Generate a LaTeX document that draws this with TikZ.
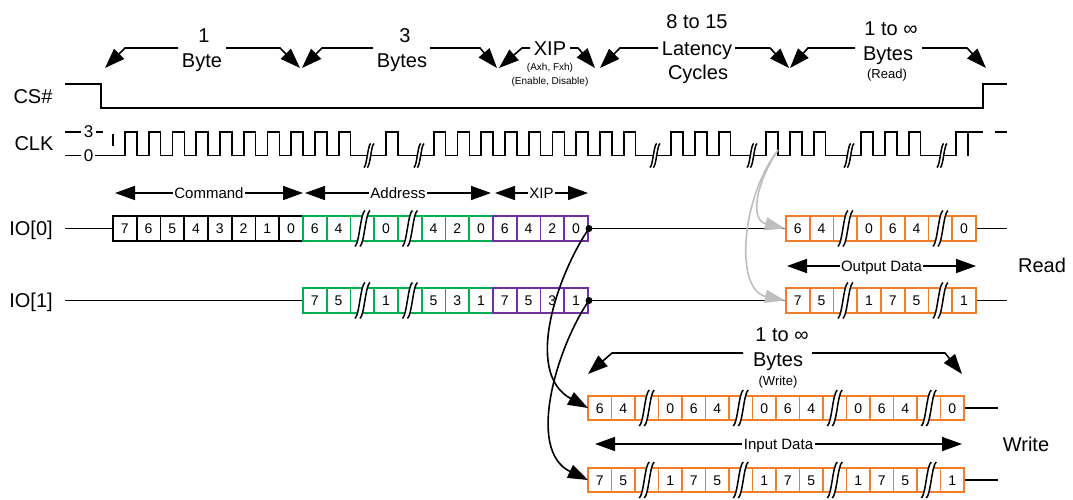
\documentclass[tikz,border=0pt]{standalone}
\usepackage{fontspec}
\setmainfont{Liberation Sans}
\usetikzlibrary{arrows.meta}
\definecolor{grn}{RGB}{0,176,80}
\definecolor{prp}{RGB}{112,48,160}
\definecolor{org}{RGB}{242,125,40}
\definecolor{gry}{RGB}{190,190,190}
\tikzset{
  brk/.pic={
    \fill[white] (-7.5,18) .. controls (-3,15) and (-2,-15) .. (2.5,-18) -- (7.5,-18) .. controls (3,-15) and (2,15) .. (-2.5,18) -- cycle;
    \draw[line width=1.5pt] (-7.5,18) .. controls (-3,15) and (-2,-15) .. (2.5,-18);
    \draw[line width=1.5pt] (-2.5,18) .. controls (2,15) and (3,-15) .. (7.5,-18);
  }
}
\begin{document}
\begin{tikzpicture}[x=1pt,y=-1pt,
  ln/.style={line width=1.6pt},
  arr/.style={line width=1.6pt,-{Triangle[length=20pt,width=14pt]}},
  darr/.style={line width=1.6pt,{Triangle[length=20pt,width=14pt]}-{Triangle[length=20pt,width=14pt]}},
  garr/.style={draw=gry,line width=1.6pt,-{Triangle[length=20pt,width=13pt]}},
  big/.style={font=\fontsize{20}{22}\selectfont,inner sep=0pt,text height=14.3pt,text depth=0pt},
  clab/.style={font=\fontsize{17}{19}\selectfont,inner sep=0pt,text height=12.2pt,text depth=0pt},
  mid/.style={font=\fontsize{15}{17}\selectfont,inner ysep=0pt,inner xsep=1.5pt,text height=10.7pt,text depth=0pt,fill=white},
  sml/.style={font=\fontsize{10}{11}\selectfont,inner sep=0pt,text height=7.2pt,text depth=0pt},
  paren/.style={font=\fontsize{13}{14}\selectfont,inner sep=0pt,text height=9.3pt,text depth=0pt},
  cellA/.style={draw,line width=1.7pt,minimum width=23.75pt,minimum height=25pt,inner sep=0pt,
     font=\fontsize{14}{14}\selectfont,text height=10pt,text depth=0pt},
  cellW/.style={cellA,minimum width=23.5pt,minimum height=24.5pt},
  dot/.style={circle,fill,inner sep=0pt,minimum size=7pt}
]
\useasboundingbox (0,0) rectangle (1073,499);

% ---------- left labels ----------
\node[big] (cs)  at (33,96)  {CS\#};
\node[big] (clk) at (34,143) {CLK};
\node[big] (io0) at (31,228.5) {IO[0]};
\node[big] (io1) at (31,300.5) {IO[1]};
\node[big] (read)  at (1042,265.5) {Read};
\node[big] (write) at (1026,444) {Write};

% ---------- top labels ----------
\node[big] (g1a) at (204,35) {1};
\node[big] (g1b) at (202,60) {Byte};
\node[big] (g2a) at (405,35) {3};
\node[big] (g2b) at (402,60) {Bytes};
\node[big] (g3a) at (550,48.5) {XIP};
\node[sml] (g3b) at (550,67) {(Axh, Fxh)};
\node[sml] (g3c) at (550,80.5) {(Enable, Disable)};
\node[big] (g4a) at (697,21.5) {8 to 15};
\node[big] (g4b) at (697,48.5) {Latency};
\node[big] (g4c) at (698,72.5) {Cycles};
\node[big] (g5a) at (891,28.5) {1 to ∞};
\node[big] (g5b) at (888,53.5) {Bytes};
\node[paren] (g5c) at (887,74) {(Read)};
\node[big] (gwa) at (782,334) {1 to ∞};
\node[big] (gwb) at (778,359) {Bytes};
\node[paren] (gwc) at (778,381) {(Write)};

% top arrows
\coordinate (a1s) at (178,48); \coordinate (a1b) at (125,48); \coordinate (a1t) at (105,68);
\coordinate (a2s) at (226,48); \coordinate (a2b) at (280,48); \coordinate (a2t) at (300,68);
\coordinate (a3s) at (373,48); \coordinate (a3b) at (322,48); \coordinate (a3t) at (302,68);
\coordinate (a4s) at (430,48); \coordinate (a4b) at (480,48); \coordinate (a4t) at (497,68);
\coordinate (a5s) at (530,48); \coordinate (a5b) at (522,48); \coordinate (a5t) at (499,68);
\coordinate (a6s) at (570,48); \coordinate (a6b) at (578,48); \coordinate (a6t) at (595,68);
\coordinate (a7s) at (658,48); \coordinate (a7b) at (620,48); \coordinate (a7t) at (600,68);
\coordinate (a8s) at (735,48); \coordinate (a8b) at (770,48); \coordinate (a8t) at (789,68);
\coordinate (a9s) at (855,48); \coordinate (a9b) at (808,48); \coordinate (a9t) at (790,68);
\coordinate (a10s) at (922,48); \coordinate (a10b) at (967,48); \coordinate (a10t) at (986,68);
\coordinate (w1s) at (743,353); \coordinate (w1b) at (612,353); \coordinate (w1t) at (588,374);
\coordinate (w2s) at (812,353); \coordinate (w2b) at (945,353); \coordinate (w2t) at (962,374);
\foreach \k in {a1,a2,a3,a4,a5,a6,a7,a8,a9,a10,w1,w2}
  \draw[arr] (\k s) -- (\k b) -- (\k t);

% ---------- CS# ----------
\coordinate (cs0) at (65,84); \coordinate (cs1) at (101,84); \coordinate (cs2) at (101,108);
\coordinate (cs3) at (983,108); \coordinate (cs4) at (983,84); \coordinate (cs5) at (1007,84);
\draw[ln] (cs0) -- (cs1) -- (cs2) -- (cs3) -- (cs4) -- (cs5);

% ---------- CLK ----------
\node[clab] (m3) at (88.5,131.5) {3};
\node[clab] (m0) at (88.5,155.5) {0};
\draw[ln] (65,132) -- (81,132);
\draw[ln] (96,132) -- (103,132);
\draw[ln] (65,155.5) -- (81,155.5);
\draw[ln] (113,134) -- (113,146);
\draw[ln] (95,155.5)
  foreach \xr in {125,148.75,172.5,196.25,220,243.75,267.5,291.25,315,338.75,386.25,433.75,457.5,481.25,505,528.75,552.5,576.25,600,623.75,671.25,695,718.75,766.25,790,813.75,861.25,885,908.75}
  { -- (\xr,155.5) -- (\xr,132) -- ({\xr+11.875},132) -- ({\xr+11.875},155.5) }
  -- (956.25,155.5) -- (956.25,132) -- (983,132);
\draw[ln] (968.1,132) -- (968.1,155.5);
\draw[ln] (995,132) -- (1007,132);
\foreach \bx in {369,419,655,752,849,942}
  \pic[scale=0.67] at (\bx,155.5) {brk};

% ---------- IO lines ----------
\draw[ln] (65,228.5) -- (113,228.5);
\draw[ln] (65,300.5) -- (303,300.5);
\draw[ln] (589,228.5) -- (786,228.5);
\draw[ln] (589,300.5) -- (786,300.5);
\draw[ln] (977,228.5) -- (1007,228.5);
\draw[ln] (977,300.5) -- (1007,300.5);
\draw[ln] (964,408) -- (998,408);
\draw[ln] (964,480) -- (998,480);

% ---------- cells ----------
\foreach \dg [count=\i from 0] in {7,6,5,4,3,2,1,0}
  \node[cellA,draw=black] (ca\i) at ({124.875+23.75*\i},228.5) {\dg};
\foreach \dg [count=\i from 0] in {6,4,{},0,{},4,2,0}
  \node[cellA,draw=grn] (ga\i) at ({314.875+23.75*\i},228.5) {\dg};
\foreach \dg [count=\i from 0] in {7,5,{},1,{},5,3,1}
  \node[cellA,draw=grn] (gb\i) at ({314.875+23.75*\i},300.5) {\dg};
\foreach \dg [count=\i from 0] in {6,4,2,0}
  \node[cellA,draw=prp] (pa\i) at ({504.875+23.75*\i},228.5) {\dg};
\foreach \dg [count=\i from 0] in {7,5,3,1}
  \node[cellA,draw=prp] (pb\i) at ({504.875+23.75*\i},300.5) {\dg};
\foreach \dg [count=\i from 0] in {6,4,{},0,6,4,{},0}
  \node[cellA,draw=org] (ra\i) at ({797.875+23.75*\i},228.5) {\dg};
\foreach \dg [count=\i from 0] in {7,5,{},1,7,5,{},1}
  \node[cellA,draw=org] (rb\i) at ({797.875+23.75*\i},300.5) {\dg};
\foreach \dg [count=\i from 0] in {6,4,{},0,6,4,{},0,6,4,{},0,6,4,{},0}
  \node[cellW,draw=org] (wa\i) at ({599.75+23.5*\i},408) {\dg};
\foreach \dg [count=\i from 0] in {7,5,{},1,7,5,{},1,7,5,{},1,7,5,{},1}
  \node[cellW,draw=org] (wb\i) at ({599.75+23.5*\i},480) {\dg};

\foreach \bx in {362.4,409.9,845.4,940.4}
  { \pic at (\bx,228.5) {brk}; \pic at (\bx,300.5) {brk}; }
\foreach \bx in {646.75,740.75,834.75,928.75}
  { \pic at (\bx,408) {brk}; \pic at (\bx,480) {brk}; }

% ---------- phase arrows ----------
\draw[darr] (115,193) -- node[mid] (cmdt) {Command} (303,193);
\draw[darr] (305,193) -- node[mid] (addt) {Address} (491,193);
\draw[darr] (495,193) -- node[mid] (xipt) {XIP} (588,193);
\draw[darr] (787,266) -- node[mid] (outt) {Output Data} (976,266);
\draw[darr] (595,444) -- node[mid] (int) {Input Data} (962,444);

% ---------- dots and curved connectors ----------
\node[dot] (d0) at (589,228.5) {};
\node[dot] (d1) at (589,300.5) {};
\coordinate (wi0) at (588,408);
\coordinate (wi1) at (588,480);
\draw[arr] (d0.center) .. controls (560,270) and (522,372) .. (wi0);
\draw[arr] (d1.center) .. controls (558,345) and (525,450) .. (wi1);

\coordinate (g0) at (778,150);
\coordinate (ri0) at (785,228.5);
\coordinate (ri1) at (785,300.5);
\draw[garr] (g0) .. controls (755,185) and (750,220) .. (ri0);
\draw[garr] (g0) .. controls (740,200) and (735,290) .. (ri1);
\end{tikzpicture}
\end{document}
